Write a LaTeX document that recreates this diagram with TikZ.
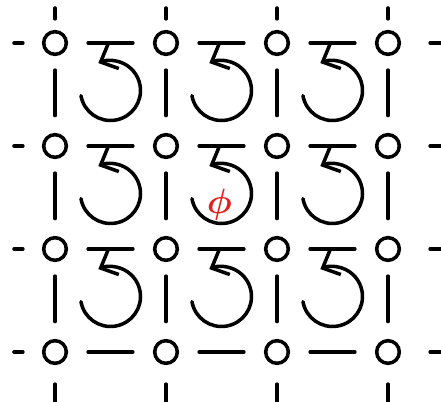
\documentclass[tikz,border=0pt]{standalone}
\usepackage{amsmath,bm}
\usetikzlibrary{arrows.meta, calc}
\definecolor{phired}{RGB}{228,32,28}

\begin{document}
\begin{tikzpicture}[
        x=0.03cm, y=0.03cm,
        line width=3pt,
        line cap=round,
        site/.style={circle, draw, minimum size=0.68cm, inner sep=0pt},
        link/.style={shorten <=0.6cm, shorten >=0.6cm},
        rung/.style={shorten <=0.42cm, shorten >=0.52cm},
        flux/.style={-{Straight Barb[length=0.42cm, width=0.8cm]}}
    ]
        \useasboundingbox (0,0) rectangle (441,-402);

        % Lattice sites
        \foreach \i/\x in {1/55, 2/166, 3/277, 4/388}
            \foreach \j/\y in {1/43, 2/146, 3/249, 4/352}
                \node[site] (v\i\j) at (\x,-\y) {};

        % Dangling links at the border
        \foreach \j/\y in {1/43, 2/146, 3/249, 4/352} {
            \coordinate (l\j) at (14,-\y);
            \coordinate (r\j) at (441,-\y);
            \draw[shorten >=0.57cm] (l\j) -- (v1\j);
            \draw[shorten >=0.87cm] (r\j) -- (v4\j);
        }
        \foreach \i/\x in {1/55, 2/166, 3/277, 4/388} {
            \coordinate (t\i) at (\x,-8);
            \coordinate (b\i) at (\x,-402);
            \draw[shorten >=0.33cm] (t\i) -- (v\i1);
            \draw[shorten >=0.57cm] (b\i) -- (v\i4);
        }

        % Links between neighbouring sites
        \foreach \i/\k in {1/2, 2/3, 3/4}
            \foreach \j in {1,...,4}
                \draw[link] (v\i\j) -- (v\k\j);
        \foreach \j/\l in {1/2, 2/3, 3/4}
            \foreach \i in {1,...,4}
                \draw[rung] (v\i\j) -- (v\i\l);

        % Plaquette circulations
        \foreach \i/\k in {1/2, 2/3, 3/4}
            \foreach \j/\l in {1/2, 2/3, 3/4}
                \draw[flux] ($(v\i\j)!0.5!(v\k\l)+(0,4)$) ++(190:0.9cm)
                    arc[start angle=190, end angle=474, radius=0.9cm];

        % Flux label in the central plaquette
        \node[text=phired, scale=3] (phi) at ($(v22)!0.5!(v33)+(-2,-7)$) {$\bm{\phi}$};
    \end{tikzpicture}
\end{document}
